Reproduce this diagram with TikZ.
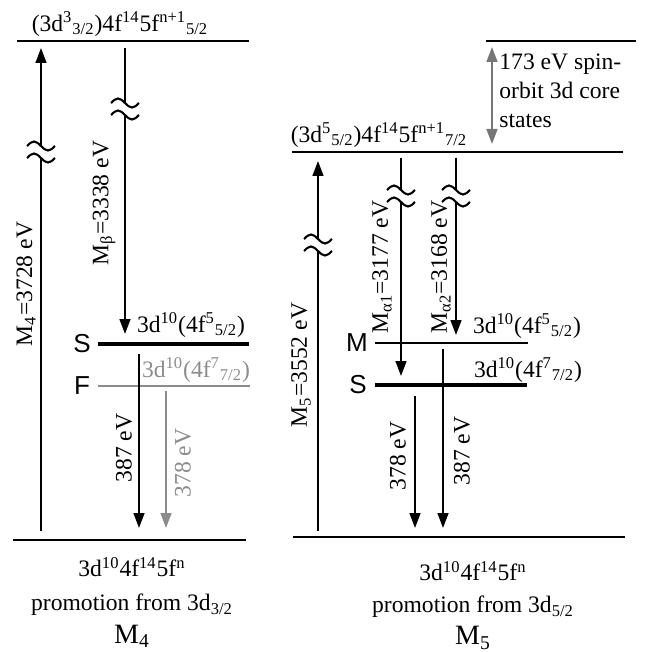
\documentclass[tikz,border=0pt]{standalone}
\usepackage{fontspec}
\setmainfont{Liberation Serif}
\newfontfamily\tagfont{Liberation Sans}
\usetikzlibrary{arrows.meta}
\definecolor{lvlgrey}{HTML}{8C8C8C}
\definecolor{sogrey}{HTML}{767676}
\tikzset{
  lvl/.style      = {line width=1.2pt},
  lvlthick/.style = {line width=2.4pt},
  lvlthin/.style  = {line width=0.7pt},
  sig/.style      = {-{Triangle[length=7.5pt,width=5.4pt]}, line width=1.05pt},
  lbl/.style      = {font=\fontsize{11.8}{14}\selectfont, inner sep=1pt},
  vlbl/.style     = {lbl, rotate=90},
  tag/.style      = {font=\tagfont\fontsize{13}{15}\selectfont, inner sep=1pt},
  brk/.pic        = {
    \fill[white] (-2.5,-6) rectangle (2.5,6);
    \draw[line width=1.05pt] (-14,-6) sin (-7,-10.5) cos (0,-6) sin (7,-1.5) cos (14,-6)
                             (-14,6) sin (-7,1.5) cos (0,6) sin (7,10.5) cos (14,6);
  },
}

\begin{document}
\begin{tikzpicture}[x=0.5pt, y=-0.5pt]
  \useasboundingbox (0,0) rectangle (649,652);

  % M4 side: levels
  \coordinate (top4w) at (17,41);  \coordinate (top4e) at (249,41);
  \coordinate (s4w)   at (98,344); \coordinate (s4e)   at (249,344);
  \coordinate (f4w)   at (98,386); \coordinate (f4e)   at (250,386);
  \coordinate (bot4w) at (13,540); \coordinate (bot4e) at (246,540);
  \draw[lvl] (top4w) -- (top4e);
  \draw[lvlthick] (s4w) -- (s4e);
  \draw[lvlthin, lvlgrey] (f4w) -- (f4e);
  \draw[lvl] (bot4w) -- (bot4e);

  \node[lbl] (cfgtop4) at (120,24)
    {(3d\textsuperscript{3}\textsubscript{3/2})4f\textsuperscript{14}5f\textsuperscript{n+1}\textsubscript{5/2}};
  \node[lbl] (cfgs4) at (191,325) {3d\textsuperscript{10}(4f\textsuperscript{5}\textsubscript{5/2})};
  \node[lbl, text=lvlgrey] (cfgf4) at (196,370) {3d\textsuperscript{10}(4f\textsuperscript{7}\textsubscript{7/2})};
  \node[tag] (tags4) at (82,344) {S};
  \node[tag] (tagf4) at (82,386) {F};

  % M4 side: transitions
  \coordinate (m4lo) at (41,531);  \coordinate (m4hi) at (41,48);
  \coordinate (mbhi) at (125,48);  \coordinate (mblo) at (125,334);
  \coordinate (s4a)  at (139,354); \coordinate (s4b)  at (139,528);
  \coordinate (f4a)  at (166,391); \coordinate (f4b)  at (166,528);
  \draw[sig] (m4lo) -- (m4hi);
  \draw[sig] (mbhi) -- (mblo);
  \draw[sig] (s4a) -- (s4b);
  \draw[sig, lvlgrey] (f4a) -- (f4b);
  \pic at (41,152) {brk};
  \pic at (125,109) {brk};

  \node[vlbl] (lm4) at (26,284) {M\textsubscript{4}=3728 eV};
  \node[vlbl] (lmb) at (104,203) {M\textsubscript{β}=3338 eV};
  \node[vlbl] (l387a) at (124,448) {387 eV};
  \node[vlbl, text=lvlgrey] (l378a) at (183,463) {378 eV};

  \node[lbl] (cfgbot4) at (132,567) {3d\textsuperscript{10}4f\textsuperscript{14}5f\textsuperscript{n}};
  \node[lbl] (prom4) at (132,605) {promotion from 3d\textsubscript{3/2}};
  \node[lbl, font=\fontsize{14}{16}\selectfont] (edge4) at (132,636) {M\textsubscript{4}};

  % M5 side: levels
  \coordinate (top5w) at (486,41);  \coordinate (top5e) at (636,41);
  \coordinate (mid5w) at (292,152); \coordinate (mid5e) at (623,152);
  \coordinate (m5w)   at (375,343); \coordinate (m5e)   at (528,343);
  \coordinate (s5w)   at (375,385); \coordinate (s5e)   at (527,385);
  \coordinate (bot5w) at (293,537); \coordinate (bot5e) at (625,537);
  \draw[lvl] (top5w) -- (top5e);
  \draw[lvl] (mid5w) -- (mid5e);
  \draw[lvlthin] (m5w) -- (m5e);
  \draw[lvlthick] (s5w) -- (s5e);
  \draw[lvl] (bot5w) -- (bot5e);

  \node[lbl] (cfgmid5) at (379,135)
    {(3d\textsuperscript{5}\textsubscript{5/2})4f\textsuperscript{14}5f\textsuperscript{n+1}\textsubscript{7/2}};
  \node[lbl] (cfgm5) at (527,326) {3d\textsuperscript{10}(4f\textsuperscript{5}\textsubscript{5/2})};
  \node[lbl] (cfgs5) at (528,370) {3d\textsuperscript{10}(4f\textsuperscript{7}\textsubscript{7/2})};
  \node[tag] (tagm5) at (357,343) {M};
  \node[tag] (tags5) at (358,385) {S};

  % spin-orbit splitting
  \coordinate (soa) at (492,47); \coordinate (sob) at (492,144);
  \draw[sig, {Triangle[length=7.5pt,width=5.4pt]}-{Triangle[length=7.5pt,width=5.4pt]}, sogrey] (soa) -- (sob);
  \node[lbl, align=left, anchor=west, font=\fontsize{11.8}{14.5}\selectfont] (sotxt) at (497,91)
    {173 eV spin-\\orbit 3d core\\states};

  % M5 side: transitions
  \coordinate (m5lo) at (318,531); \coordinate (m5hi) at (318,161);
  \coordinate (a1hi) at (401,158); \coordinate (a1lo) at (401,376);
  \coordinate (a2hi) at (456,158); \coordinate (a2lo) at (456,335);
  \coordinate (s5a)  at (415,396); \coordinate (s5b)  at (415,528);
  \coordinate (m5a)  at (443,349); \coordinate (m5b)  at (443,528);
  \draw[sig] (m5lo) -- (m5hi);
  \draw[sig] (a1hi) -- (a1lo);
  \draw[sig] (a2hi) -- (a2lo);
  \draw[sig] (s5a) -- (s5b);
  \draw[sig] (m5a) -- (m5b);
  \pic at (318,245) {brk};
  \pic at (401,196) {brk};
  \pic at (456,196) {brk};

  \node[vlbl] (lm5) at (301,365) {M\textsubscript{5}=3552 eV};
  \node[vlbl] (la1) at (382,267) {M\textsubscript{α1}=3177 eV};
  \node[vlbl] (la2) at (441,267) {M\textsubscript{α2}=3168 eV};
  \node[vlbl] (l378b) at (398,456) {378 eV};
  \node[vlbl] (l387b) at (462,451) {387 eV};

  \node[lbl] (cfgbot5) at (473,571) {3d\textsuperscript{10}4f\textsuperscript{14}5f\textsuperscript{n}};
  \node[lbl] (prom5) at (473,607) {promotion from 3d\textsubscript{5/2}};
  \node[lbl, font=\fontsize{14}{16}\selectfont] (edge5) at (473,638) {M\textsubscript{5}};
\end{tikzpicture}
\end{document}
